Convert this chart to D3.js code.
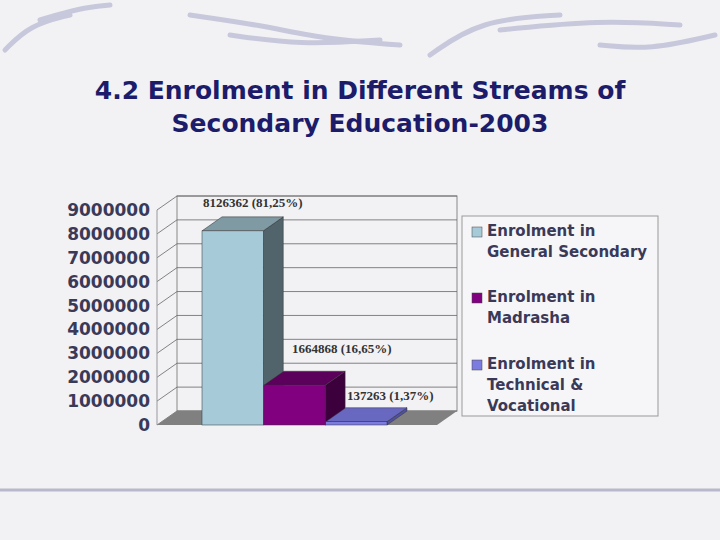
<!DOCTYPE html><html><head><meta charset="utf-8"><script src="https://cdn.jsdelivr.net/npm/d3@7"></script>
<style>body{margin:0;background:#f2f2f5}</style></head><body><svg id="c" width="720" height="540"></svg>
<script>
const categories=["Enrolment in General Secondary","Enrolment in Madrasha","Enrolment in Technical & Vocational"];
const legendLines=[["Enrolment in","General Secondary"],["Enrolment in","Madrasha"],["Enrolment in","Technical &","Vocational"]];
const values=[8126362,1664868,137263];
const barLabels=["8126362 (81,25%)","1664868 (16,65%)","137263 (1,37%)"];
const tickValues=[0,1000000,2000000,3000000,4000000,5000000,6000000,7000000,8000000,9000000];
const front=["#a6cad8","#800080","#7b7be0"],top_=["#7f9aa3","#5b005b","#6868c0"],side=["#52646b","#3c003c","#5050a0"];
const svg=d3.select("#c");
const deco=svg.append("g").attr("fill","none").attr("stroke","#c8c8dc").attr("stroke-width",5).attr("stroke-linecap","round");
[[[5,50],[30,25],[70,15]],[[40,20],[80,8],[110,5]],[[190,15],[260,25],[330,40],[400,45]],[[230,35],[300,45],[380,40]],[[430,55],[480,20],[560,15]],[[500,30],[600,20],[680,25]],[[600,45],[650,50],[715,35]]].forEach(p=>deco.append("path").attr("d",d3.line().curve(d3.curveBasis)(p)));
svg.append("line").attr("x1",0).attr("x2",720).attr("y1",490).attr("y2",490).attr("stroke","#b8b8cc").attr("stroke-width",3);
svg.append("text").attr("x",360).attr("y",99).attr("text-anchor","middle").attr("font-family","DejaVu Sans").attr("font-weight","bold").attr("font-size",25).attr("fill","#1c1c6a").text("4.2 Enrolment in Different Streams of");
svg.append("text").attr("x",360).attr("y",132).attr("text-anchor","middle").attr("font-family","DejaVu Sans").attr("font-weight","bold").attr("font-size",25).attr("fill","#1c1c6a").text("Secondary Education-2003");
const y=d3.scaleLinear().domain([0,9000000]).range([425,210]);
const x=d3.scaleBand().domain(categories).range([202,387]).paddingInner(0.01);
const dx=20,dy=-14,x0=157,x1=437;
const g=svg.append("g");
g.append("rect").attr("x",x0+dx).attr("y",y(9000000)+dy).attr("width",x1-x0).attr("height",y(0)-y(9000000)).attr("fill","none").attr("stroke","#888").attr("stroke-width",1);
tickValues.forEach(t=>{
 g.append("line").attr("x1",x0+dx).attr("x2",x1+dx).attr("y1",y(t)+dy).attr("y2",y(t)+dy).attr("stroke","#666").attr("stroke-width",0.8);
 g.append("line").attr("x1",x0).attr("x2",x0+dx).attr("y1",y(t)).attr("y2",y(t)+dy).attr("stroke","#666").attr("stroke-width",0.8);
});
g.append("line").attr("x1",x0).attr("x2",x0).attr("y1",y(9000000)).attr("y2",y(0)).attr("stroke","#999");
g.append("path").attr("d",`M${x0},${y(0)}L${x1},${y(0)}L${x1+dx},${y(0)+dy}L${x0+dx},${y(0)+dy}Z`).attr("fill","#808080");
const ax=d3.axisLeft(y).tickValues(tickValues).tickFormat(d3.format("d")).tickSize(0).tickPadding(7);
const ag=svg.append("g").attr("transform",`translate(${x0},0)`).call(ax);
ag.select(".domain").remove();
ag.selectAll("text").attr("font-family","DejaVu Sans").attr("font-weight","bold").attr("font-size",17).attr("fill","#3a3a58");
categories.forEach((c,i)=>{
 const bx=x(c),bw=x.bandwidth(),ty=y(values[i]),by=y(0);
 g.append("path").attr("d",`M${bx+bw},${ty}L${bx+bw+dx},${ty+dy}L${bx+bw+dx},${by+dy}L${bx+bw},${by}Z`).attr("fill",side[i]).attr("stroke","#333").attr("stroke-width",0.5);
 g.append("path").attr("d",`M${bx},${ty}L${bx+dx},${ty+dy}L${bx+bw+dx},${ty+dy}L${bx+bw},${ty}Z`).attr("fill",top_[i]).attr("stroke","#333").attr("stroke-width",0.5);
 g.append("rect").attr("x",bx).attr("y",ty).attr("width",bw).attr("height",by-ty).attr("fill",front[i]).attr("stroke","#333").attr("stroke-width",0.5);
});
const lp=[[203,207],[292,353],[347,400]];
barLabels.forEach((l,i)=>svg.append("text").attr("x",lp[i][0]).attr("y",lp[i][1]).attr("font-family","Liberation Serif").attr("font-weight","bold").attr("font-size",13).attr("fill","#333").text(l));
svg.append("rect").attr("x",462).attr("y",216).attr("width",196).attr("height",200).attr("fill","#f6f6f8").attr("stroke","#999");
const ly=[236,302,369];
legendLines.forEach((ls,i)=>{
 svg.append("rect").attr("x",472).attr("y",ly[i]-9).attr("width",10).attr("height",10).attr("fill",front[i]).attr("stroke","#444").attr("stroke-width",0.5);
 ls.forEach((t,j)=>svg.append("text").attr("x",487).attr("y",ly[i]+j*21).attr("font-family","DejaVu Sans").attr("font-weight","bold").attr("font-size",15).attr("fill","#3a3a58").text(t));
});
</script></body></html>
